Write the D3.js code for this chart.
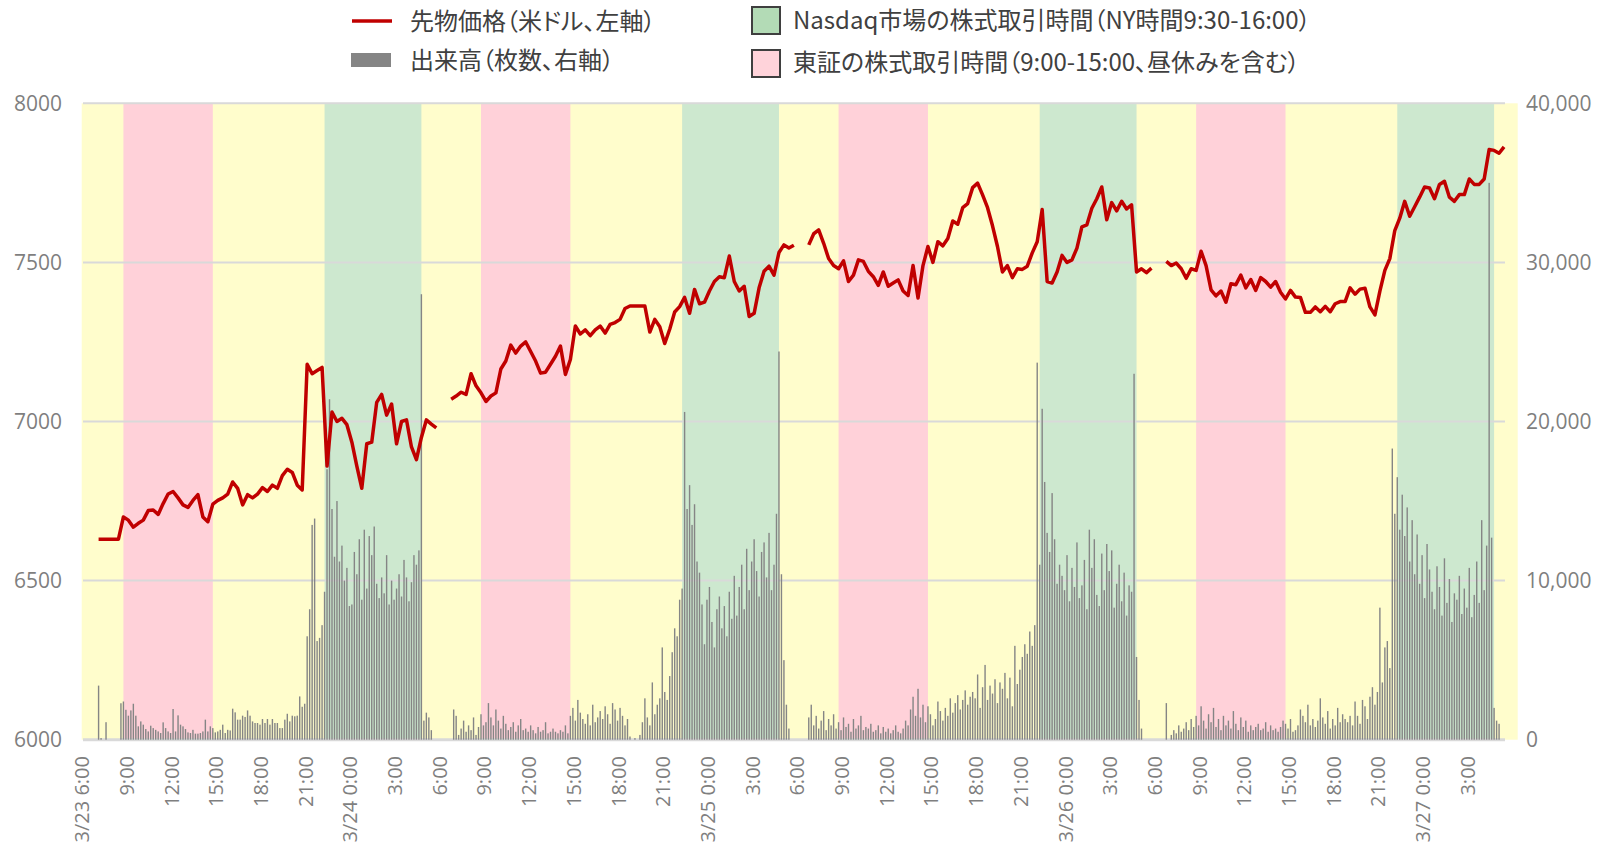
<!DOCTYPE html>
<html>
<head>
<meta charset="utf-8">
<script src="https://cdn.jsdelivr.net/npm/d3@7"></script>
<style>
  body { margin: 0; background: #fff; }
  svg { display: block; }
  .tick text { font-family: "Open Sans", "Liberation Sans", sans-serif; fill: #7f7f7f; }
  .legend text { font-family: "Noto Sans CJK JP", sans-serif; font-size: 24px; fill: #404040; font-feature-settings: "palt"; }
</style>
</head>
<body>
<script>
// Time range shown and the market-hour bands (JST)
const chartRange = ["2020-03-23T06:12", "2020-03-27T06:35"];
const tseHours = [
  ["2020-03-23T09:00", "2020-03-23T15:00"],
  ["2020-03-24T09:00", "2020-03-24T15:00"],
  ["2020-03-25T09:00", "2020-03-25T15:00"],
  ["2020-03-26T09:00", "2020-03-26T15:00"]
];
const nasdaqHours = [
  ["2020-03-23T22:30", "2020-03-24T05:00"],
  ["2020-03-24T22:30", "2020-03-25T05:00"],
  ["2020-03-25T22:30", "2020-03-26T05:00"],
  ["2020-03-26T22:30", "2020-03-27T05:00"]
];

// Each futures session starts at 7:00 JST; price every 20 min, volume every 10 min
const sessionStart = ["2020-03-23T07:00", "2020-03-24T07:00", "2020-03-25T07:00", "2020-03-26T07:00"];
const priceStep = 20;
const volumeStep = 10;

const price1 = [null, 6630, 6630, 6630, 6630, 6630,
  6700, 6690, 6668, 6680, 6690, 6720, 6722, 6708, 6742, 6772, 6780, 6760,
  6738, 6730, 6752, 6770, 6700, 6685, 6740, 6752, 6760, 6772, 6810, 6790,
  6738, 6770, 6760, 6772, 6792, 6780, 6800, 6790, 6830, 6850, 6840, 6800,
  6785, 7180, 7150, 7160, 7170, 6860, 7030, 7000, 7010, 6990, 6935, 6860,
  6790, 6930, 6935, 7060, 7085, 7020, 7055, 6930, 7000, 7005, 6920, 6880,
  6950, 7005, 6992, 6980];
const price2 = [7070, 7080, 7092, 7085, 7150, 7112,
  7090, 7063, 7080, 7090, 7165, 7190, 7240, 7215, 7237, 7250, 7220, 7190,
  7152, 7155, 7180, 7205, 7237, 7148, 7195, 7300, 7275, 7288, 7270, 7288,
  7300, 7278, 7305, 7311, 7321, 7355, 7363, 7363, 7363, 7363, 7281, 7321,
  7298, 7245, 7290, 7344, 7361, 7390, 7340, 7415, 7370, 7375, 7410, 7440,
  7455, 7452, 7520, 7440, 7410, 7425, 7330, 7340, 7420, 7472, 7488, 7460,
  7531, 7555, 7545, 7554];
const price3 = [7555, 7590, 7602, 7560, 7512, 7490,
  7480, 7505, 7440, 7460, 7508, 7503, 7472, 7455, 7428, 7470, 7425, 7435,
  7445, 7410, 7396, 7490, 7388, 7490, 7550, 7500, 7565, 7552, 7575, 7630,
  7620, 7672, 7685, 7735, 7749, 7712, 7672, 7615, 7550, 7470, 7490, 7452,
  7480, 7478, 7488, 7530, 7565, 7666, 7440, 7435, 7470, 7522, 7500, 7508,
  7545, 7612, 7618, 7670, 7700, 7737, 7634, 7688, 7662, 7692, 7668, 7681,
  7470, 7480, 7468, 7482];
const price4 = [7503, 7490, 7498, 7480, 7450, 7480,
  7475, 7535, 7490, 7414, 7395, 7410, 7375, 7433, 7430, 7460, 7420, 7446,
  7412, 7452, 7440, 7422, 7440, 7406, 7385, 7412, 7391, 7390, 7343, 7343,
  7360, 7345, 7362, 7345, 7370, 7377, 7377, 7420, 7400, 7416, 7419, 7360,
  7335, 7410, 7475, 7512, 7600, 7639, 7692, 7645, 7675, 7705, 7737, 7734,
  7700, 7745, 7755, 7705, 7692, 7713, 7713, 7762, 7745, 7745, 7762, 7855,
  7852, 7843, 7863];

const volume1 = [
  0, 0, 3400, 100, 0, 1100,
  0, 0, 0, 0, 0, 2290,
  2400, 1880, 1510, 1840, 2260, 1510,
  840, 1150, 945, 670, 520, 880,
  730, 620, 520, 420, 1090, 730,
  520, 420, 1930, 520, 1530, 945,
  840, 670, 460, 420, 620, 380,
  380, 420, 520, 1260, 520, 840,
  730, 460, 520, 620, 945, 420,
  620, 580, 1950, 1720, 1260, 1260,
  1510, 1430, 1840, 1510, 1150, 1050,
  1050, 945, 1300, 1050, 1300, 945,
  1300, 1050, 1050, 730, 730, 1260,
  1630, 1150, 1510, 1470, 1510, 2720,
  2070, 2260, 6500, 8200, 13500, 13900,
  6200, 6400, 7200, 9300, 17000, 21400,
  14500, 11500, 15000, 11200, 12200, 10000,
  10800, 8400, 8500, 11800, 10400, 12600,
  8800, 13200, 9500, 12800, 11600, 13400,
  9800, 8900, 10200, 9200, 11600, 8500,
  10000, 8800, 9500, 10400, 9000, 11300,
  10200, 8700, 9900, 11600, 11000, 11900,
  28000, 1200, 1700, 1400, 600, 0];
const volume2 = [
  0, 1900, 1500, 300, 700, 1200,
  500, 900, 600, 1400, 300, 800,
  1600, 900, 1100, 2300, 1400, 900,
  1900, 1200, 700, 1500, 1000, 600,
  800, 1100, 500, 900, 1300, 600,
  700, 500, 900, 600, 400, 800,
  500, 600, 1100, 400, 500, 700,
  500, 400, 600, 500, 900, 400,
  1500, 2000, 1200, 2500, 1700, 1300,
  1000, 1600, 900, 2200, 1100, 1400,
  1800, 1300, 2100, 1600, 1000, 2300,
  1900, 1200, 2000, 1500, 900, 1300,
  200, 0, 100, 0, 300, 1100,
  2600, 1400, 900, 3600, 1600, 2200,
  2600, 5800, 3000, 2500, 4000, 5500,
  7000, 6500, 8800, 9500, 20600, 14500,
  16000, 13500, 14800, 11200, 10500, 8500,
  6000, 8800, 9600, 7400, 5800, 8200,
  9000, 7000, 8400, 6500, 9300, 7600,
  10300, 7800, 9600, 11000, 8200, 12000,
  9400, 11200, 12600, 10600, 9000, 11800,
  12400, 10200, 13000, 9400, 11000, 14200,
  24400, 10400, 5000, 2200, 700, 0];
const volume3 = [
  1400, 2200, 900, 1500, 700, 1200,
  1800, 600, 1300, 900, 1600, 700,
  1100, 600, 1400, 800, 1000, 500,
  1300, 700, 900, 1500, 600, 800,
  700, 1000, 500, 600, 900, 400,
  800, 500, 700, 400, 600, 900,
  500, 400, 700, 1200, 900, 1900,
  2700, 1500, 3200, 1400, 2200, 1100,
  2100, 1600, 900, 1300, 2400, 1800,
  1200, 2000, 1500, 2600, 1700, 2300,
  2800, 1900, 2500, 3100, 2200, 2700,
  3000, 2600, 4100, 2000, 3300, 4700,
  2500, 3400, 2900, 3800, 2300, 3600,
  3200, 4200, 2600, 3900, 2100, 5900,
  3500, 4400, 5200, 6000, 5400, 6800,
  5900, 7200, 23700, 11000, 20800, 16200,
  13000, 11800, 15500, 12600, 9800, 11000,
  10300, 9400, 11600, 8700, 10800, 9600,
  12400, 8900, 9700, 11300, 8200, 13200,
  10800, 12600, 9100, 8400, 11700, 9400,
  12300, 10600, 11900, 8300, 9800, 11000,
  8700, 10500, 7800, 9700, 9300, 23000,
  5200, 2500, 700, 0, 0, 0];
const volume4 = [
  2300, 0, 300, 600, 400, 900,
  500, 700, 1100, 600, 1300, 800,
  1500, 900, 2100, 1200, 700, 1600,
  1100, 2000, 800, 1300, 600, 1500,
  900, 1200, 700, 1800, 1000, 600,
  1400, 800, 1200, 500, 900, 600,
  800, 1000, 600, 700, 1100, 500,
  900, 600, 700, 500, 800, 1200,
  1000, 700, 1300, 500, 600, 900,
  1900, 1500, 1100, 2200, 900, 1300,
  800, 1200, 2600, 1400, 1000, 1800,
  700, 1300, 900, 2000, 1100, 1600,
  1300, 1100, 1500, 900, 2400, 1500,
  1000, 2500, 2100, 1300, 2700, 3300,
  2200, 3000, 8300, 3600, 5800, 6200,
  4500, 18300, 14200, 16500, 13200, 15400,
  12800, 14600, 11200, 13800, 10400, 12900,
  9800, 11600, 8900, 12300, 10700, 9300,
  8200, 10900, 9600, 7800, 11400, 8600,
  10100, 7400, 9200, 8800, 10300, 7900,
  9500, 8300, 10800, 7700, 9100, 11200,
  8600, 13800, 9400, 12200, 35000, 12700,
  2000, 1200, 1000, 0, 0, 0];

const prices = [price1, price2, price3, price4];
const volumes = [volume1, volume2, volume3, volume4];

const priceTicks = [6000, 6500, 7000, 7500, 8000];
const volumeTicks = [0, 10000, 20000, 30000, 40000];

const legendLeft = ["先物価格（米ドル、左軸）", "出来高（枚数、右軸）"];
const legendRight = ["Nasdaq市場の株式取引時間（NY時間9:30-16:00）", "東証の株式取引時間（9:00-15:00、昼休みを含む）"];

// Chart dimensions
const width = 1608;
const height = 850;
const gridLeft = 83;
const gridRight = 1505;

const parse = d3.utcParse("%Y-%m-%dT%H:%M");
const toSeries = (start, values, step) => {
  const t0 = parse(start).getTime();
  return values.map((v, i) => ({t: new Date(t0 + i * step * 60000), v}));
};

const x = d3.scaleUtc()
  .domain(chartRange.map(parse))
  .range([81.7, 1517.7]);

const y = d3.scaleLinear()
  .domain([6000, 8000])
  .range([739.7, 103.3]);

const yVol = d3.scaleLinear()
  .domain([0, 40000])
  .range([739.7, 103.3]);

const svg = d3.select("body")
  .append("svg")
  .attr("width", width)
  .attr("height", height)
  .attr("viewBox", [0, 0, width, height]);

// Background bands: yellow base, pink for TSE, green for Nasdaq
svg.append("rect")
  .attr("x", x.range()[0])
  .attr("width", x.range()[1] - x.range()[0])
  .attr("y", y(8000))
  .attr("height", y(6000) - y(8000))
  .attr("fill", "#fffdcc");

const band = (data, color) => svg.append("g")
  .selectAll("rect")
  .data(data)
  .join("rect")
    .attr("x", d => x(parse(d[0])))
    .attr("width", d => x(parse(d[1])) - x(parse(d[0])))
    .attr("y", y(8000))
    .attr("height", y(6000) - y(8000))
    .attr("fill", color);

band(tseHours, "#ffd1d9");
band(nasdaqHours, "#cde8cf");

// Grid lines
svg.append("g")
  .selectAll("line")
  .data(priceTicks)
  .join("line")
    .attr("x1", gridLeft)
    .attr("x2", gridRight)
    .attr("y1", d => y(d))
    .attr("y2", d => y(d))
    .attr("stroke", "#d9d9d9")
    .attr("stroke-width", d => d === 6000 ? 3 : 2);

// Volume bars
svg.append("g")
  .attr("fill", "#858585")
  .selectAll("g")
  .data(volumes.map((v, i) => toSeries(sessionStart[i], v, volumeStep)))
  .join("g")
  .selectAll("rect")
  .data(d => d.filter(p => p.v > 0))
  .join("rect")
    .attr("x", d => x(d.t) - 0.7)
    .attr("width", 1.4)
    .attr("y", d => yVol(d.v))
    .attr("height", d => yVol(0) - yVol(d.v));

// Price line, one path per session
const line = d3.line()
  .defined(d => d.v != null)
  .x(d => x(d.t))
  .y(d => y(d.v));

svg.append("g")
  .selectAll("path")
  .data(prices.map((p, i) => toSeries(sessionStart[i], p, priceStep)))
  .join("path")
    .attr("fill", "none")
    .attr("stroke", "#c00000")
    .attr("stroke-width", 3.5)
    .attr("stroke-linejoin", "round")
    .attr("d", line);

// Left axis
const yAxis = svg.append("g")
  .attr("transform", "translate(62,0)")
  .call(d3.axisLeft(y).tickValues(priceTicks).tickFormat(d3.format("d")).tickSize(0).tickPadding(0));
yAxis.select(".domain").remove();
yAxis.selectAll("text").style("font-size", "21px");

// Right axis
const yAxisRight = svg.append("g")
  .attr("transform", "translate(1526,0)")
  .call(d3.axisRight(yVol).tickValues(volumeTicks).tickFormat(d3.format(",")).tickSize(0).tickPadding(0));
yAxisRight.select(".domain").remove();
yAxisRight.selectAll("text").style("font-size", "21px");

// Bottom axis, rotated labels every 3 hours
const tickTimes = d3.utcHour.every(3).range(parse("2020-03-23T06:00"), parse("2020-03-27T04:00"));
const fmtDay = d3.utcFormat("%-m/%-d %-H:%M");
const fmtHour = d3.utcFormat("%-H:%M");
const xAxis = svg.append("g")
  .attr("transform", "translate(0,740)")
  .call(d3.axisBottom(x)
    .tickValues(tickTimes)
    .tickSize(0)
    .tickFormat((d, i) => (i === 0 || d.getUTCHours() === 0) ? fmtDay(d) : fmtHour(d)));
xAxis.select(".domain").remove();
xAxis.selectAll("text")
  .style("font-size", "20px")
  .attr("x", 0)
  .attr("y", 0)
  .attr("dy", "0.35em")
  .attr("text-anchor", "end")
  .attr("transform", "translate(3,16) rotate(-90)");

// Legend
const legend = svg.append("g").attr("class", "legend");

legend.append("line")
  .attr("x1", 352).attr("x2", 392)
  .attr("y1", 21).attr("y2", 21)
  .attr("stroke", "#c00000")
  .attr("stroke-width", 3.5);
legend.append("rect")
  .attr("x", 351).attr("y", 53)
  .attr("width", 40).attr("height", 14)
  .attr("fill", "#858585");

legend.selectAll(".ll")
  .data(legendLeft)
  .join("text")
    .attr("class", "ll")
    .attr("x", 410)
    .attr("y", (d, i) => 22 + i * 39)
    .attr("dy", "0.35em")
    .text(d => d);

legend.selectAll(".box")
  .data(["#b3dbb6", "#ffd3da"])
  .join("rect")
    .attr("class", "box")
    .attr("x", 752)
    .attr("y", (d, i) => 7 + i * 43)
    .attr("width", 28)
    .attr("height", 27)
    .attr("fill", d => d)
    .attr("stroke", "#3f3f3f")
    .attr("stroke-width", 2);

legend.selectAll(".lr")
  .data(legendRight)
  .join("text")
    .attr("class", "lr")
    .attr("x", 793)
    .attr("y", (d, i) => 21 + i * 42)
    .attr("dy", "0.35em")
    .text(d => d);
</script>
</body>
</html>
